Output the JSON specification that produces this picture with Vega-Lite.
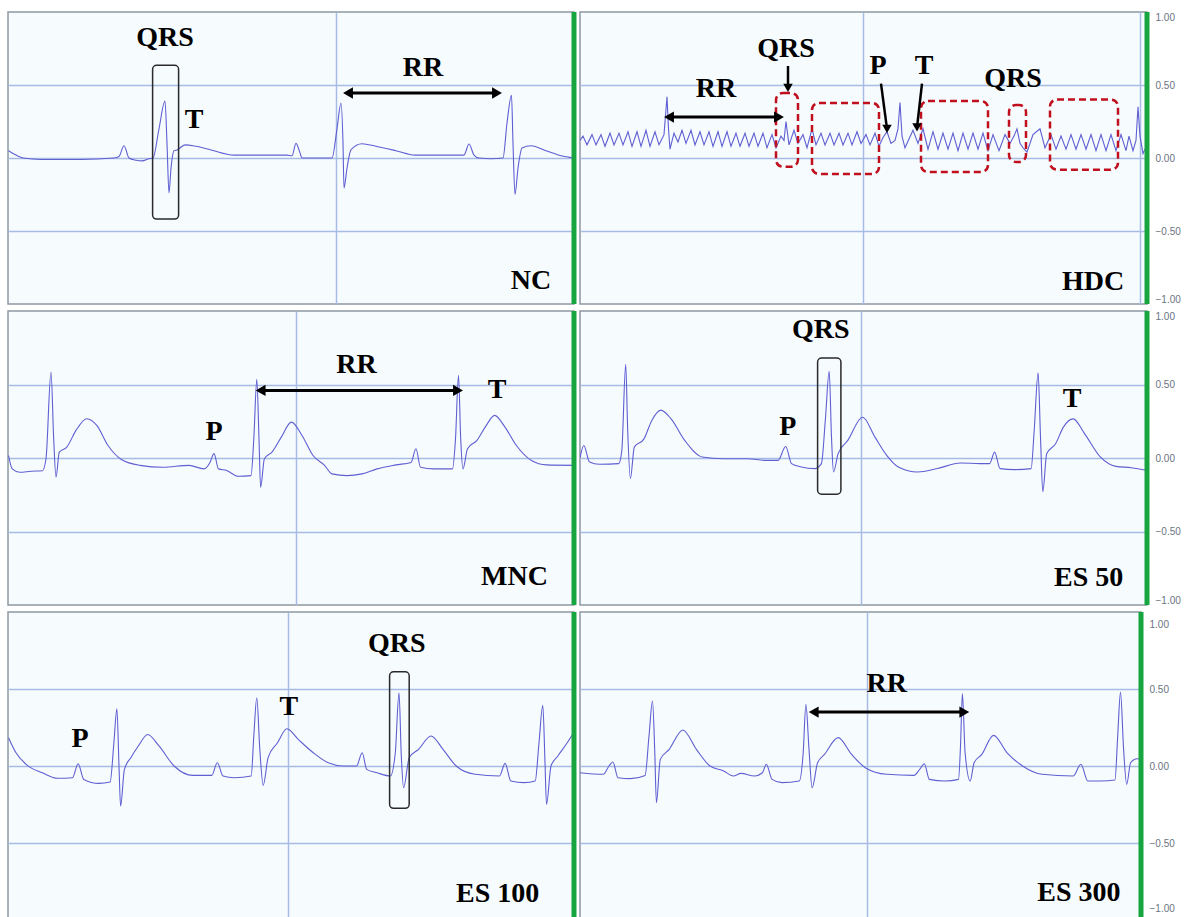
{
  "$schema": "https://vega.github.io/schema/vega-lite/v6.json",
  "padding": {"left": 7, "top": 8, "right": 0, "bottom": 0},
  "background": "#ffffff",
  "bounds": "flush",
  "config": {
    "view": {"fill": "#f6fbfe", "stroke": "#8f99a3", "strokeWidth": 1.5},
    "axis": {"gridColor": "#a7bce4", "gridWidth": 1.5, "labelFont": "Liberation Sans", "labelFontSize": 10, "labelColor": "#6a7480", "minExtent": 0}
  },
  "datasets": {
    "nc": [{"t":0.5,"v":0.05},{"t":8,"v":0.02},{"t":15,"v":0},{"t":33,"v":-0.01},{"t":73,"v":-0.01},{"t":106,"v":0},{"t":111,"v":0.01},{"t":116,"v":0.084},{"t":121,"v":0},{"t":128,"v":-0.015},{"t":134,"v":-0.02},{"t":141,"v":-0.005},{"t":145,"v":0},{"t":151,"v":0.2},{"t":157,"v":0.39},{"t":159,"v":0.1},{"t":161,"v":-0.24},{"t":163,"v":-0.07},{"t":166,"v":0.05},{"t":169,"v":0.055},{"t":177,"v":0.09},{"t":188,"v":0.08},{"t":203,"v":0.055},{"t":226,"v":0.02},{"t":253,"v":0.02},{"t":279,"v":0.02},{"t":284,"v":0.015},{"t":288,"v":0.1},{"t":292,"v":0.035},{"t":294,"v":0},{"t":324,"v":0},{"t":329,"v":0.2},{"t":333,"v":0.377},{"t":335,"v":0.1},{"t":336,"v":-0.205},{"t":339,"v":-0.07},{"t":343,"v":0.057},{"t":354,"v":0.098},{"t":368,"v":0.08},{"t":388,"v":0.05},{"t":407,"v":0.02},{"t":452,"v":0.02},{"t":456,"v":0.02},{"t":461,"v":0.096},{"t":466,"v":0.02},{"t":471,"v":0},{"t":483,"v":-0.005},{"t":495,"v":0},{"t":499,"v":0.24},{"t":503.5,"v":0.43},{"t":505,"v":0.1},{"t":507,"v":-0.25},{"t":510,"v":-0.07},{"t":514,"v":0.068},{"t":523,"v":0.084},{"t":538,"v":0.05},{"t":553,"v":0.015},{"t":566,"v":0}],
    "hdc": [{"t":0,"v":0.12},{"t":3,"v":0.15},{"t":7,"v":0.09},{"t":12,"v":0.16},{"t":16,"v":0.09},{"t":21,"v":0.16},{"t":25,"v":0.08},{"t":30,"v":0.17},{"t":34,"v":0.09},{"t":39,"v":0.17},{"t":43,"v":0.09},{"t":48,"v":0.18},{"t":52,"v":0.08},{"t":57,"v":0.18},{"t":61,"v":0.08},{"t":66,"v":0.19},{"t":70,"v":0.08},{"t":75,"v":0.18},{"t":79,"v":0.09},{"t":84,"v":0.16},{"t":87,"v":0.42},{"t":88.5,"v":0.2},{"t":90,"v":0.06},{"t":94,"v":0.17},{"t":98,"v":0.11},{"t":102,"v":0.19},{"t":106,"v":0.1},{"t":111,"v":0.19},{"t":115,"v":0.09},{"t":120,"v":0.18},{"t":124,"v":0.09},{"t":129,"v":0.18},{"t":133,"v":0.08},{"t":138,"v":0.18},{"t":142,"v":0.08},{"t":147,"v":0.18},{"t":151,"v":0.08},{"t":156,"v":0.17},{"t":160,"v":0.08},{"t":165,"v":0.17},{"t":169,"v":0.08},{"t":174,"v":0.17},{"t":178,"v":0.08},{"t":183,"v":0.17},{"t":187,"v":0.07},{"t":192,"v":0.16},{"t":196,"v":0.07},{"t":201,"v":0.15},{"t":204,"v":0.12},{"t":206,"v":0.25},{"t":209,"v":0.09},{"t":214,"v":0.19},{"t":218,"v":0.1},{"t":223,"v":0.16},{"t":227,"v":0.07},{"t":232,"v":0.2},{"t":236,"v":0.09},{"t":241,"v":0.17},{"t":245,"v":0.09},{"t":250,"v":0.17},{"t":254,"v":0.09},{"t":259,"v":0.17},{"t":263,"v":0.09},{"t":268,"v":0.17},{"t":272,"v":0.09},{"t":277,"v":0.18},{"t":281,"v":0.1},{"t":286,"v":0.16},{"t":290,"v":0.09},{"t":295,"v":0.17},{"t":299,"v":0.08},{"t":303,"v":0.14},{"t":307,"v":0.18},{"t":311,"v":0.1},{"t":315,"v":0.12},{"t":318,"v":0.2},{"t":320,"v":0.38},{"t":322,"v":0.15},{"t":325,"v":0.07},{"t":333,"v":0.19},{"t":338,"v":0.1},{"t":343,"v":0.2},{"t":348,"v":0.06},{"t":353,"v":0.18},{"t":358,"v":0.06},{"t":363,"v":0.17},{"t":368,"v":0.06},{"t":373,"v":0.17},{"t":378,"v":0.05},{"t":383,"v":0.17},{"t":388,"v":0.06},{"t":393,"v":0.17},{"t":398,"v":0.06},{"t":403,"v":0.17},{"t":408,"v":0.05},{"t":413,"v":0.16},{"t":419,"v":0.05},{"t":425,"v":0.16},{"t":430,"v":0.1},{"t":434,"v":0.15},{"t":437,"v":0.2},{"t":440,"v":0.1},{"t":443,"v":0.07},{"t":447,"v":0.04},{"t":453,"v":0.16},{"t":460,"v":0.2},{"t":465,"v":0.07},{"t":471,"v":0.16},{"t":476,"v":0.06},{"t":481,"v":0.15},{"t":486,"v":0.06},{"t":491,"v":0.16},{"t":496,"v":0.06},{"t":501,"v":0.16},{"t":506,"v":0.06},{"t":511,"v":0.16},{"t":516,"v":0.05},{"t":521,"v":0.16},{"t":526,"v":0.05},{"t":531,"v":0.16},{"t":536,"v":0.05},{"t":541,"v":0.16},{"t":546,"v":0.05},{"t":549,"v":0.15},{"t":553,"v":0.05},{"t":556,"v":0.12},{"t":558,"v":0.35},{"t":560,"v":0.15},{"t":563,"v":0.03},{"t":567,"v":0.09}],
    "mnc": [{"t":0.5,"v":0.017},{"t":4.3,"v":-0.074},{"t":11.8,"v":-0.097},{"t":23,"v":-0.09},{"t":34.4,"v":-0.087},{"t":38,"v":-0.005},{"t":43,"v":0.585},{"t":45.7,"v":0.13},{"t":48,"v":-0.13},{"t":51.3,"v":0.04},{"t":58.8,"v":0.074},{"t":68,"v":0.188},{"t":78.8,"v":0.267},{"t":89,"v":0.22},{"t":100,"v":0.085},{"t":113.4,"v":-0.01},{"t":132,"v":-0.05},{"t":155,"v":-0.063},{"t":181,"v":-0.05},{"t":196,"v":-0.074},{"t":202,"v":-0.03},{"t":206,"v":0.03},{"t":210.5,"v":-0.074},{"t":218.7,"v":-0.085},{"t":230,"v":-0.124},{"t":243,"v":-0.12},{"t":245.8,"v":0.13},{"t":248.8,"v":0.535},{"t":251,"v":0.13},{"t":252.6,"v":-0.2},{"t":256.4,"v":-0.005},{"t":264,"v":0.04},{"t":273.3,"v":0.142},{"t":283.4,"v":0.244},{"t":294,"v":0.153},{"t":305,"v":0.017},{"t":316.6,"v":-0.05},{"t":324,"v":-0.108},{"t":339,"v":-0.12},{"t":354,"v":-0.108},{"t":369,"v":-0.074},{"t":388,"v":-0.047},{"t":403,"v":-0.03},{"t":408,"v":0.063},{"t":412.5,"v":-0.063},{"t":425.7,"v":-0.074},{"t":444.5,"v":-0.074},{"t":447.5,"v":0.13},{"t":450.5,"v":0.563},{"t":452.7,"v":0.13},{"t":455,"v":-0.074},{"t":459.5,"v":0.063},{"t":469,"v":0.12},{"t":478.3,"v":0.222},{"t":486.6,"v":0.29},{"t":497,"v":0.21},{"t":508.4,"v":0.085},{"t":523.5,"v":-0.017},{"t":538.5,"v":-0.047},{"t":566,"v":-0.05}],
    "es50": [{"t":0,"v":0.0},{"t":3.8,"v":0.085},{"t":9.6,"v":-0.027},{"t":19.3,"v":-0.043},{"t":38.7,"v":-0.038},{"t":41.8,"v":0.05},{"t":45.7,"v":0.637},{"t":47.7,"v":0.187},{"t":50.4,"v":-0.14},{"t":54.3,"v":0.074},{"t":64,"v":0.13},{"t":71.7,"v":0.254},{"t":80.7,"v":0.326},{"t":91.1,"v":0.266},{"t":104.7,"v":0.12},{"t":122.2,"v":0.007},{"t":143.6,"v":-0.005},{"t":166.9,"v":-0.005},{"t":186.3,"v":-0.016},{"t":198,"v":-0.016},{"t":205.7,"v":0.078},{"t":211.5,"v":-0.038},{"t":221.2,"v":-0.061},{"t":234.8,"v":-0.072},{"t":241.4,"v":-0.038},{"t":245.3,"v":0.254},{"t":249.2,"v":0.59},{"t":251.5,"v":0.142},{"t":253.5,"v":-0.095},{"t":258.1,"v":0.029},{"t":267.8,"v":0.12},{"t":282.6,"v":0.277},{"t":295,"v":0.142},{"t":306.7,"v":0.018},{"t":318.3,"v":-0.061},{"t":337.7,"v":-0.095},{"t":357.2,"v":-0.072},{"t":380.5,"v":-0.034},{"t":399.9,"v":-0.038},{"t":409.6,"v":-0.038},{"t":414.6,"v":0.04},{"t":420.1,"v":-0.072},{"t":434.8,"v":-0.079},{"t":451.1,"v":-0.072},{"t":454.2,"v":0.187},{"t":458.1,"v":0.58},{"t":460.5,"v":0.142},{"t":462.8,"v":-0.23},{"t":466.7,"v":0.029},{"t":475.6,"v":0.097},{"t":483.4,"v":0.21},{"t":493.1,"v":0.266},{"t":504.7,"v":0.164},{"t":520.3,"v":0.007},{"t":535.8,"v":-0.057},{"t":551.3,"v":-0.066},{"t":567,"v":-0.084}],
    "es100": [{"t":0.5,"v":0.184},{"t":8,"v":0.086},{"t":19.3,"v":0.004},{"t":34.4,"v":-0.044},{"t":49.4,"v":-0.08},{"t":64.5,"v":-0.076},{"t":70.1,"v":0.015},{"t":75.8,"v":-0.087},{"t":90.8,"v":-0.113},{"t":102.1,"v":-0.104},{"t":105.9,"v":0.151},{"t":108.9,"v":0.372},{"t":111.1,"v":-0.022},{"t":112.6,"v":-0.26},{"t":116.4,"v":-0.022},{"t":122.8,"v":0.054},{"t":130.3,"v":0.13},{"t":139.7,"v":0.205},{"t":151,"v":0.13},{"t":166.1,"v":0},{"t":184.9,"v":-0.061},{"t":203.7,"v":-0.061},{"t":209.3,"v":0.021},{"t":215,"v":-0.065},{"t":226.3,"v":-0.076},{"t":243.2,"v":-0.065},{"t":245.8,"v":0.195},{"t":248.8,"v":0.443},{"t":251.8,"v":0.108},{"t":255.2,"v":-0.126},{"t":260.1,"v":0.054},{"t":269.5,"v":0.151},{"t":278.9,"v":0.242},{"t":290.2,"v":0.173},{"t":305.3,"v":0.086},{"t":320.3,"v":0.021},{"t":335.4,"v":0},{"t":348.5,"v":0},{"t":354.2,"v":0.086},{"t":358.7,"v":-0.022},{"t":369.2,"v":-0.044},{"t":382.4,"v":-0.065},{"t":387.3,"v":0.086},{"t":391,"v":0.476},{"t":393.3,"v":0.065},{"t":395.6,"v":-0.141},{"t":401.2,"v":0.054},{"t":410.6,"v":0.108},{"t":423,"v":0.195},{"t":435,"v":0.108},{"t":448.2,"v":0},{"t":467,"v":-0.054},{"t":491.5,"v":-0.065},{"t":497.1,"v":0.017},{"t":502.8,"v":-0.097},{"t":516,"v":-0.108},{"t":527.2,"v":-0.097},{"t":531,"v":0.151},{"t":534.8,"v":0.394},{"t":537,"v":0.021},{"t":538.5,"v":-0.249},{"t":543,"v":0},{"t":549.8,"v":0.065},{"t":559.2,"v":0.151},{"t":566,"v":0.22}],
    "es300": [{"t":0,"v":-0.044},{"t":23.2,"v":-0.054},{"t":29,"v":0},{"t":32.9,"v":0.026},{"t":38,"v":-0.076},{"t":50.4,"v":-0.082},{"t":65.1,"v":-0.061},{"t":69,"v":0.195},{"t":72.5,"v":0.422},{"t":74.8,"v":0.086},{"t":76.4,"v":-0.238},{"t":80.3,"v":0.043},{"t":89.2,"v":0.108},{"t":102.8,"v":0.234},{"t":116.4,"v":0.108},{"t":130,"v":0},{"t":143.6,"v":-0.032},{"t":153.3,"v":-0.065},{"t":161,"v":-0.048},{"t":174.6,"v":-0.065},{"t":182.4,"v":-0.044},{"t":186.3,"v":0.011},{"t":192.1,"v":-0.087},{"t":201.8,"v":-0.108},{"t":219.3,"v":-0.097},{"t":223.2,"v":0.086},{"t":225.9,"v":0.4},{"t":229,"v":0.108},{"t":232.1,"v":-0.141},{"t":237.6,"v":0.021},{"t":244.5,"v":0.075},{"t":258.1,"v":0.184},{"t":271.7,"v":0.075},{"t":285.3,"v":-0.011},{"t":306.7,"v":-0.054},{"t":333.9,"v":-0.061},{"t":339.7,"v":-0.022},{"t":344.3,"v":0.015},{"t":349.4,"v":-0.087},{"t":364.9,"v":-0.097},{"t":378.5,"v":-0.087},{"t":380.5,"v":0.13},{"t":382.4,"v":0.471},{"t":385.1,"v":0.086},{"t":390.2,"v":-0.097},{"t":394.1,"v":0.021},{"t":401.8,"v":0.075},{"t":413.5,"v":0.199},{"t":427.1,"v":0.086},{"t":442.6,"v":0},{"t":462,"v":-0.054},{"t":493.1,"v":-0.065},{"t":500.9,"v":0.011},{"t":507.8,"v":-0.097},{"t":520.3,"v":-0.097},{"t":535,"v":-0.091},{"t":537.7,"v":0.195},{"t":540.5,"v":0.48},{"t":543.6,"v":0.108},{"t":546.7,"v":-0.119},{"t":550.6,"v":0.021},{"t":557.2,"v":0.047},{"t":561,"v":0.043}],
    "nc_txt": [{"t":157,"v":0.82,"label":"QRS"},{"t":186,"v":0.26,"label":"T"},{"t":415,"v":0.616,"label":"RR"},{"t":523,"v":-0.84,"label":"NC"}],
    "hdc_txt": [{"t":136,"v":0.47,"label":"RR"},{"t":206,"v":0.75,"label":"QRS"},{"t":298,"v":0.63,"label":"P"},{"t":344,"v":0.63,"label":"T"},{"t":433,"v":0.54,"label":"QRS"},{"t":513,"v":-0.85,"label":"HDC"}],
    "mnc_txt": [{"t":206,"v":0.176,"label":"P"},{"t":348.5,"v":0.63,"label":"RR"},{"t":489,"v":0.46,"label":"T"},{"t":506.5,"v":-0.81,"label":"MNC"}],
    "es50_txt": [{"t":240.7,"v":0.874,"label":"QRS"},{"t":207.7,"v":0.21,"label":"P"},{"t":492,"v":0.4,"label":"T"},{"t":508.6,"v":-0.815,"label":"ES 50"}],
    "es100_txt": [{"t":72,"v":0.173,"label":"P"},{"t":280.8,"v":0.385,"label":"T"},{"t":388.8,"v":0.79,"label":"QRS"},{"t":489.6,"v":-0.834,"label":"ES 100"}],
    "es300_txt": [{"t":306.7,"v":0.53,"label":"RR"},{"t":498.9,"v":-0.823,"label":"ES 300"}],
    "nc_box": [{"t1":144.6,"t2":170.6,"v1":-0.418,"v2":0.635}],
    "es50_box": [{"t1":237.6,"t2":260.9,"v1":-0.246,"v2":0.68}],
    "es100_box": [{"t1":381.6,"t2":401.2,"v1":-0.275,"v2":0.612}],
    "hdc_red": [{"t1":196,"t2":218,"v1":-0.06,"v2":0.445},{"t1":232,"t2":299,"v1":-0.11,"v2":0.377},{"t1":341,"t2":408,"v1":-0.096,"v2":0.39},{"t1":429,"t2":446,"v1":-0.027,"v2":0.363},{"t1":470,"t2":538,"v1":-0.08,"v2":0.4}],
    "nc_arr": [{"t1":340,"t2":489,"v":0.445}],
    "hdc_arr": [{"t1":89,"t2":199,"v":0.28}],
    "mnc_arr": [{"t1":252.6,"t2":450,"v":0.46}],
    "es300_arr": [{"t1":233.7,"t2":384.3,"v":0.35}],
    "hdc_ptr": [{"t1":208,"v1":0.63,"t2":208,"v2":0.48},{"t1":301,"v1":0.51,"t2":307,"v2":0.2},{"t1":342,"v1":0.51,"t2":337,"v2":0.21}]
  },
  "columns": 2,
  "spacing": {"row": 7, "column": 6},
  "concat": [
    {
      "width": 566, "height": 292,
      "layer": [
        {"data": {"name": "nc"}, "mark": {"type": "line", "color": "#5f5fd2", "strokeWidth": 1.1, "interpolate": "monotone", "clip": true},
         "encoding": {
           "x": {"field": "t", "type": "quantitative", "scale": {"domain": [0, 566], "nice": false}, "axis": {"values": [328], "grid": true, "labels": false, "ticks": false, "domain": false, "title": null}},
           "y": {"field": "v", "type": "quantitative", "scale": {"domain": [-1, 1], "nice": false}, "axis": {"values": [-0.5, 0, 0.5], "grid": true, "labels": false, "ticks": false, "domain": false, "title": null}}}},
        {"data": {"name": "nc_box"}, "mark": {"type": "rect", "fillOpacity": 0, "stroke": "#2a2a2a", "strokeWidth": 1.5, "cornerRadius": 4},
         "encoding": {"x": {"field": "t1", "type": "quantitative"}, "x2": {"field": "t2"}, "y": {"field": "v1", "type": "quantitative"}, "y2": {"field": "v2"}}},
        {"data": {"name": "nc_arr"}, "mark": {"type": "rule", "color": "#000000", "strokeWidth": 3},
         "encoding": {"x": {"field": "t1", "type": "quantitative"}, "x2": {"field": "t2"}, "y": {"field": "v", "type": "quantitative"}}},
        {"data": {"name": "nc_arr"}, "mark": {"type": "point", "shape": "triangle-left", "filled": true, "color": "#000000", "size": 130, "opacity": 1},
         "encoding": {"x": {"field": "t1", "type": "quantitative"}, "y": {"field": "v", "type": "quantitative"}}},
        {"data": {"name": "nc_arr"}, "mark": {"type": "point", "shape": "triangle-right", "filled": true, "color": "#000000", "size": 130, "opacity": 1},
         "encoding": {"x": {"field": "t2", "type": "quantitative"}, "y": {"field": "v", "type": "quantitative"}}},
        {"data": {"name": "nc_txt"}, "mark": {"type": "text", "font": "Liberation Serif", "fontWeight": "bold", "fontSize": 28, "color": "#000000", "baseline": "middle", "align": "center"},
         "encoding": {"x": {"field": "t", "type": "quantitative"}, "y": {"field": "v", "type": "quantitative"}, "text": {"field": "label"}}},
        {"data": {"values": [{}]}, "mark": {"type": "rule", "color": "#17a540", "strokeWidth": 5}, "encoding": {"x": {"datum": 566}}}
      ]
    },
    {
      "width": 567, "height": 292,
      "layer": [
        {"data": {"name": "hdc"}, "mark": {"type": "line", "color": "#5f5fd2", "strokeWidth": 1.1, "clip": true},
         "encoding": {
           "x": {"field": "t", "type": "quantitative", "scale": {"domain": [0, 567], "nice": false}, "axis": {"values": [283, 560], "grid": true, "labels": false, "ticks": false, "domain": false, "title": null}},
           "y": {"field": "v", "type": "quantitative", "scale": {"domain": [-1, 1], "nice": false}, "axis": {"orient": "right", "values": [-1, -0.5, 0, 0.5, 1], "format": ".2f", "labelFlush": true, "labelPadding": 8, "grid": true, "gridOpacity": {"condition": {"test": "abs(datum.value) < 0.9", "value": 1}, "value": 0}, "ticks": false, "domain": false, "title": null}}}},
        {"data": {"name": "hdc_red"}, "mark": {"type": "rect", "fillOpacity": 0, "stroke": "#c0101e", "strokeWidth": 2.5, "strokeDash": [7, 4], "cornerRadius": 7},
         "encoding": {"x": {"field": "t1", "type": "quantitative"}, "x2": {"field": "t2"}, "y": {"field": "v1", "type": "quantitative"}, "y2": {"field": "v2"}}},
        {"data": {"name": "hdc_arr"}, "mark": {"type": "rule", "color": "#000000", "strokeWidth": 3},
         "encoding": {"x": {"field": "t1", "type": "quantitative"}, "x2": {"field": "t2"}, "y": {"field": "v", "type": "quantitative"}}},
        {"data": {"name": "hdc_arr"}, "mark": {"type": "point", "shape": "triangle-left", "filled": true, "color": "#000000", "size": 130, "opacity": 1},
         "encoding": {"x": {"field": "t1", "type": "quantitative"}, "y": {"field": "v", "type": "quantitative"}}},
        {"data": {"name": "hdc_arr"}, "mark": {"type": "point", "shape": "triangle-right", "filled": true, "color": "#000000", "size": 130, "opacity": 1},
         "encoding": {"x": {"field": "t2", "type": "quantitative"}, "y": {"field": "v", "type": "quantitative"}}},
        {"data": {"name": "hdc_ptr"}, "mark": {"type": "rule", "color": "#000000", "strokeWidth": 2.5},
         "encoding": {"x": {"field": "t1", "type": "quantitative"}, "x2": {"field": "t2"}, "y": {"field": "v1", "type": "quantitative"}, "y2": {"field": "v2"}}},
        {"data": {"name": "hdc_ptr"}, "mark": {"type": "point", "shape": "triangle-down", "filled": true, "color": "#000000", "size": 90, "opacity": 1},
         "encoding": {"x": {"field": "t2", "type": "quantitative"}, "y": {"field": "v2", "type": "quantitative"}}},
        {"data": {"name": "hdc_txt"}, "mark": {"type": "text", "font": "Liberation Serif", "fontWeight": "bold", "fontSize": 28, "color": "#000000", "baseline": "middle", "align": "center"},
         "encoding": {"x": {"field": "t", "type": "quantitative"}, "y": {"field": "v", "type": "quantitative"}, "text": {"field": "label"}}},
        {"data": {"values": [{}]}, "mark": {"type": "rule", "color": "#17a540", "strokeWidth": 5}, "encoding": {"x": {"datum": 567}}}
      ]
    },
    {
      "width": 566, "height": 294,
      "layer": [
        {"data": {"name": "mnc"}, "mark": {"type": "line", "color": "#5f5fd2", "strokeWidth": 1.1, "interpolate": "monotone", "clip": true},
         "encoding": {
           "x": {"field": "t", "type": "quantitative", "scale": {"domain": [0, 566], "nice": false}, "axis": {"values": [288], "grid": true, "labels": false, "ticks": false, "domain": false, "title": null}},
           "y": {"field": "v", "type": "quantitative", "scale": {"domain": [-1, 1], "nice": false}, "axis": {"values": [-0.5, 0, 0.5], "grid": true, "labels": false, "ticks": false, "domain": false, "title": null}}}},
        {"data": {"name": "mnc_arr"}, "mark": {"type": "rule", "color": "#000000", "strokeWidth": 3},
         "encoding": {"x": {"field": "t1", "type": "quantitative"}, "x2": {"field": "t2"}, "y": {"field": "v", "type": "quantitative"}}},
        {"data": {"name": "mnc_arr"}, "mark": {"type": "point", "shape": "triangle-left", "filled": true, "color": "#000000", "size": 130, "opacity": 1},
         "encoding": {"x": {"field": "t1", "type": "quantitative"}, "y": {"field": "v", "type": "quantitative"}}},
        {"data": {"name": "mnc_arr"}, "mark": {"type": "point", "shape": "triangle-right", "filled": true, "color": "#000000", "size": 130, "opacity": 1},
         "encoding": {"x": {"field": "t2", "type": "quantitative"}, "y": {"field": "v", "type": "quantitative"}}},
        {"data": {"name": "mnc_txt"}, "mark": {"type": "text", "font": "Liberation Serif", "fontWeight": "bold", "fontSize": 28, "color": "#000000", "baseline": "middle", "align": "center"},
         "encoding": {"x": {"field": "t", "type": "quantitative"}, "y": {"field": "v", "type": "quantitative"}, "text": {"field": "label"}}},
        {"data": {"values": [{}]}, "mark": {"type": "rule", "color": "#17a540", "strokeWidth": 5}, "encoding": {"x": {"datum": 566}}}
      ]
    },
    {
      "width": 567, "height": 294,
      "layer": [
        {"data": {"name": "es50"}, "mark": {"type": "line", "color": "#5f5fd2", "strokeWidth": 1.1, "interpolate": "monotone", "clip": true},
         "encoding": {
           "x": {"field": "t", "type": "quantitative", "scale": {"domain": [0, 567], "nice": false}, "axis": {"values": [281], "grid": true, "labels": false, "ticks": false, "domain": false, "title": null}},
           "y": {"field": "v", "type": "quantitative", "scale": {"domain": [-1, 1], "nice": false}, "axis": {"orient": "right", "values": [-1, -0.5, 0, 0.5, 1], "format": ".2f", "labelFlush": true, "labelPadding": 8, "grid": true, "gridOpacity": {"condition": {"test": "abs(datum.value) < 0.9", "value": 1}, "value": 0}, "ticks": false, "domain": false, "title": null}}}},
        {"data": {"name": "es50_box"}, "mark": {"type": "rect", "fillOpacity": 0, "stroke": "#2a2a2a", "strokeWidth": 1.5, "cornerRadius": 4},
         "encoding": {"x": {"field": "t1", "type": "quantitative"}, "x2": {"field": "t2"}, "y": {"field": "v1", "type": "quantitative"}, "y2": {"field": "v2"}}},
        {"data": {"name": "es50_txt"}, "mark": {"type": "text", "font": "Liberation Serif", "fontWeight": "bold", "fontSize": 28, "color": "#000000", "baseline": "middle", "align": "center"},
         "encoding": {"x": {"field": "t", "type": "quantitative"}, "y": {"field": "v", "type": "quantitative"}, "text": {"field": "label"}}},
        {"data": {"values": [{}]}, "mark": {"type": "rule", "color": "#17a540", "strokeWidth": 5}, "encoding": {"x": {"datum": 567}}}
      ]
    },
    {
      "width": 566, "height": 308,
      "layer": [
        {"data": {"name": "es100"}, "mark": {"type": "line", "color": "#5f5fd2", "strokeWidth": 1.1, "interpolate": "monotone", "clip": true},
         "encoding": {
           "x": {"field": "t", "type": "quantitative", "scale": {"domain": [0, 566], "nice": false}, "axis": {"values": [280], "grid": true, "labels": false, "ticks": false, "domain": false, "title": null}},
           "y": {"field": "v", "type": "quantitative", "scale": {"domain": [-1, 1], "nice": false}, "axis": {"values": [-0.5, 0, 0.5], "grid": true, "labels": false, "ticks": false, "domain": false, "title": null}}}},
        {"data": {"name": "es100_box"}, "mark": {"type": "rect", "fillOpacity": 0, "stroke": "#2a2a2a", "strokeWidth": 1.5, "cornerRadius": 4},
         "encoding": {"x": {"field": "t1", "type": "quantitative"}, "x2": {"field": "t2"}, "y": {"field": "v1", "type": "quantitative"}, "y2": {"field": "v2"}}},
        {"data": {"name": "es100_txt"}, "mark": {"type": "text", "font": "Liberation Serif", "fontWeight": "bold", "fontSize": 28, "color": "#000000", "baseline": "middle", "align": "center"},
         "encoding": {"x": {"field": "t", "type": "quantitative"}, "y": {"field": "v", "type": "quantitative"}, "text": {"field": "label"}}},
        {"data": {"values": [{}]}, "mark": {"type": "rule", "color": "#17a540", "strokeWidth": 5}, "encoding": {"x": {"datum": 566}}}
      ]
    },
    {
      "width": 561, "height": 308,
      "layer": [
        {"data": {"name": "es300"}, "mark": {"type": "line", "color": "#5f5fd2", "strokeWidth": 1.1, "interpolate": "monotone", "clip": true},
         "encoding": {
           "x": {"field": "t", "type": "quantitative", "scale": {"domain": [0, 561], "nice": false}, "axis": {"values": [287], "grid": true, "labels": false, "ticks": false, "domain": false, "title": null}},
           "y": {"field": "v", "type": "quantitative", "scale": {"domain": [-1, 1], "nice": false}, "axis": {"orient": "right", "values": [-1, -0.5, 0, 0.5, 1], "format": ".2f", "labelFlush": true, "labelFlushOffset": -7, "labelPadding": 8, "grid": true, "gridOpacity": {"condition": {"test": "abs(datum.value) < 0.9", "value": 1}, "value": 0}, "ticks": false, "domain": false, "title": null}}}},
        {"data": {"name": "es300_arr"}, "mark": {"type": "rule", "color": "#000000", "strokeWidth": 3},
         "encoding": {"x": {"field": "t1", "type": "quantitative"}, "x2": {"field": "t2"}, "y": {"field": "v", "type": "quantitative"}}},
        {"data": {"name": "es300_arr"}, "mark": {"type": "point", "shape": "triangle-left", "filled": true, "color": "#000000", "size": 130, "opacity": 1},
         "encoding": {"x": {"field": "t1", "type": "quantitative"}, "y": {"field": "v", "type": "quantitative"}}},
        {"data": {"name": "es300_arr"}, "mark": {"type": "point", "shape": "triangle-right", "filled": true, "color": "#000000", "size": 130, "opacity": 1},
         "encoding": {"x": {"field": "t2", "type": "quantitative"}, "y": {"field": "v", "type": "quantitative"}}},
        {"data": {"name": "es300_txt"}, "mark": {"type": "text", "font": "Liberation Serif", "fontWeight": "bold", "fontSize": 28, "color": "#000000", "baseline": "middle", "align": "center"},
         "encoding": {"x": {"field": "t", "type": "quantitative"}, "y": {"field": "v", "type": "quantitative"}, "text": {"field": "label"}}},
        {"data": {"values": [{}]}, "mark": {"type": "rule", "color": "#17a540", "strokeWidth": 5}, "encoding": {"x": {"datum": 561}}}
      ]
    }
  ]
}
